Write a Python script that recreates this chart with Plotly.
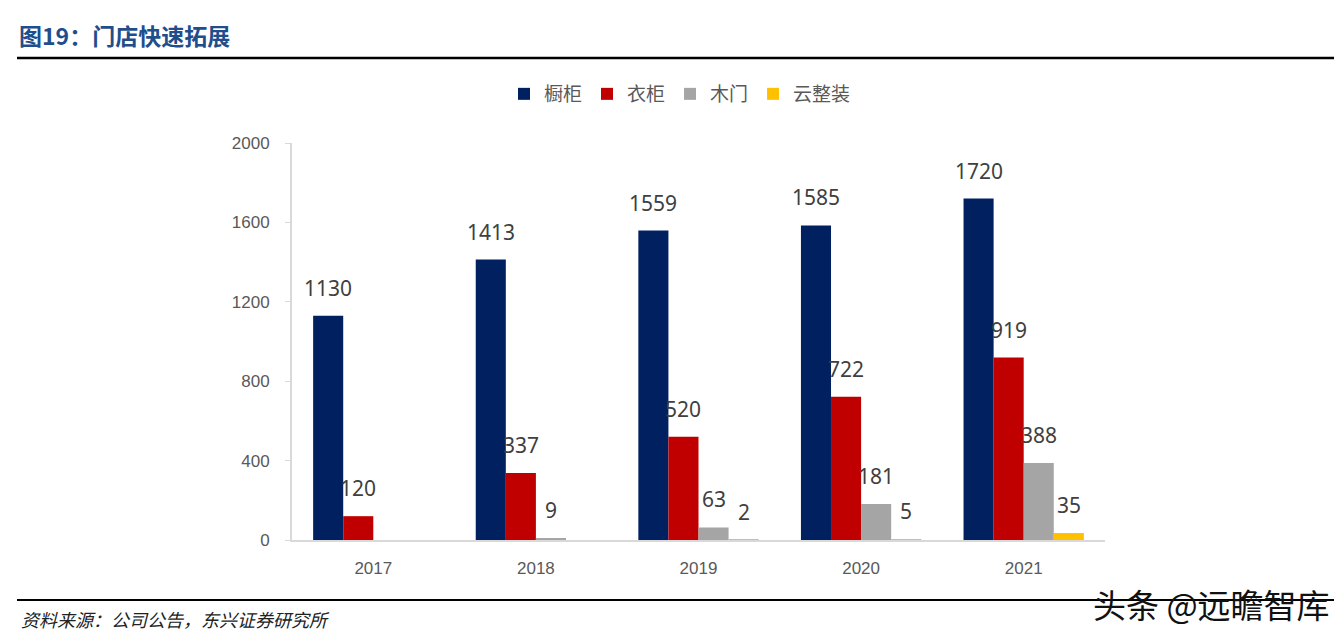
import plotly.graph_objects as go

years = ["2017", "2018", "2019", "2020", "2021"]
series_names = ["橱柜", "衣柜", "木门", "云整装"]
cabinet = [1130, 1413, 1559, 1585, 1720]
wardrobe = [120, 337, 520, 722, 919]
wood_door = [None, 9, 63, 181, 388]
cloud_decor = [None, None, 2, 5, 35]
colors = ["#002060", "#C00000", "#A5A5A5", "#FFC000"]
y_ticks = [0, 400, 800, 1200, 1600, 2000]

all_series = [cabinet, wardrobe, wood_door, cloud_decor]

W, H = 1334, 641
L, R, T, B = 292, 229, 143, 101
pw = W - L - R
ph = H - T - B

fig = go.Figure()
for name, vals, col in zip(series_names, all_series, colors):
    fig.add_trace(go.Bar(x=years, y=vals, name=name, marker_color=col,
                         marker_line_width=0, hoverinfo="skip"))

# data labels above bars (category index positions on the category axis)
n = len(all_series)
bargap = 0.26
slot = pw / len(years) * (1 - bargap) / n
for i, vals in enumerate(all_series):
    off = (i - (n - 1) / 2) * slot
    for j, v in enumerate(vals):
        if v is None:
            continue
        fig.add_annotation(x=j, y=v, xref="x", yref="y", text=str(v),
                           showarrow=False, xshift=off, yanchor="bottom", yshift=12,
                           font=dict(family="Noto Sans", size=21, color="#404040"))

def px_x(p):
    return (p - L) / pw

def px_y(p):
    return (H - B - p) / ph

# header and footer rules
fig.add_shape(type="line", xref="paper", yref="paper", x0=px_x(17), x1=px_x(1334),
              y0=px_y(58), y1=px_y(58), line=dict(color="black", width=2.5))
fig.add_shape(type="line", xref="paper", yref="paper", x0=px_x(17), x1=px_x(1334),
              y0=px_y(600), y1=px_y(600), line=dict(color="black", width=2))

fig.add_annotation(xref="paper", yref="paper", x=px_x(17), y=px_y(35), xanchor="left",
                   yanchor="middle", showarrow=False, text="<b>图19：门店快速拓展</b>",
                   font=dict(family="Noto Sans CJK SC", size=23, color="#1F4E8C"))
fig.add_annotation(xref="paper", yref="paper", x=px_x(19), y=px_y(619), xanchor="left",
                   yanchor="middle", showarrow=False,
                   text="<i>资料来源：公司公告，东兴证券研究所</i>",
                   font=dict(family="Noto Sans CJK SC", size=18, color="#222222"))
fig.add_annotation(xref="paper", yref="paper", x=px_x(1332), y=px_y(604), xanchor="right",
                   yanchor="middle", showarrow=False, text="头条 @远瞻智库",
                   font=dict(family="Noto Sans CJK SC", size=33, color="#111111"))

fig.update_layout(
    width=W, height=H,
    margin=dict(l=L, r=R, t=T, b=B, pad=0),
    paper_bgcolor="white", plot_bgcolor="white",
    barmode="group", bargap=bargap, bargroupgap=0,
    showlegend=True,
    legend=dict(orientation="h", xref="container", yref="container",
                x=680 / W, xanchor="center", y=1 - 94 / H, yanchor="middle",
                font=dict(family="Noto Sans CJK SC", size=19, color="#595959"),
                itemwidth=30, traceorder="normal"),
    xaxis=dict(type="category", range=[-0.5, len(years) - 0.5], showline=True,
               linecolor="#D9D9D9", linewidth=2, ticks="",
               tickfont=dict(family="Liberation Sans", size=17, color="#595959"),
               ticklabelstandoff=12, showgrid=False, zeroline=False),
    yaxis=dict(range=[0, 2000], tickvals=y_ticks, showline=True, linecolor="#D9D9D9",
               linewidth=2, ticks="outside", ticklen=5, tickcolor="#D9D9D9",
               tickfont=dict(family="Liberation Sans", size=17, color="#595959"),
               ticklabelstandoff=12, showgrid=False, zeroline=False),
)

fig.write_html("out.html", config={"displayModeBar": False},
               post_script="document.body.style.margin='0';document.body.style.overflow='hidden';")
